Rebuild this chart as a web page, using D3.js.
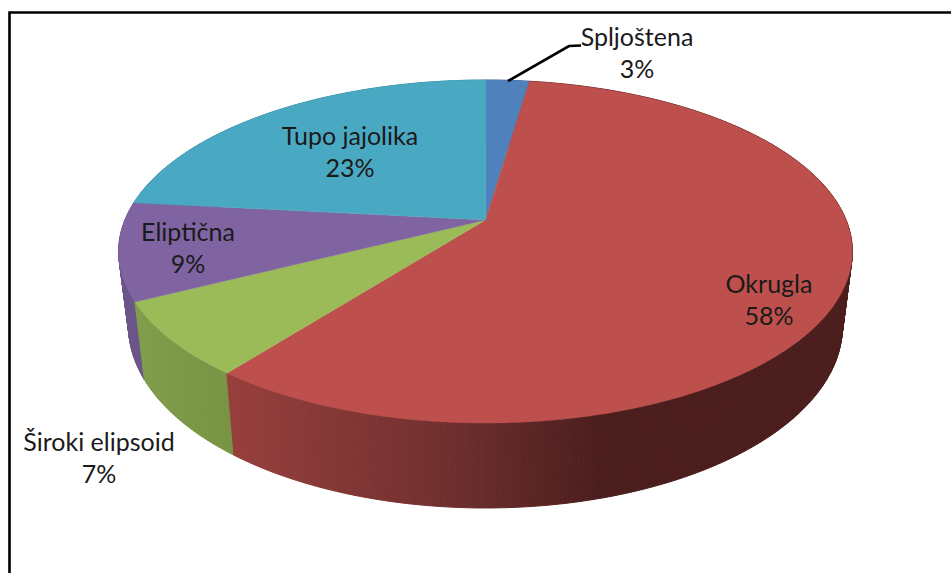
<!DOCTYPE html>
<html><head><meta charset="utf-8">
<script src="https://cdnjs.cloudflare.com/ajax/libs/d3/7.8.5/d3.min.js"></script>
<style>html,body{margin:0;padding:0;background:#fff;overflow:hidden}svg{display:block}</style>
</head><body><svg id="c" width="951" height="573"></svg>
<script>
const categories = ["Spljoštena","Okrugla","Široki elipsoid","Eliptična","Tupo jajolika"];
const values = [2.3,58.2,7.0,9.2,23.3];
const percentLabels = ["3%","58%","7%","9%","23%"];

const topColors = ["#4f81bd","#bd4f4c","#9bbb59","#8064a2","#4aa9c2"];
const labelPos = [[637,46],[769,293],[99,451],[188,241],[350,145]];
const LINE = 31.5;

const svg = d3.select("#c");
const cx = 485.5, apexY = 220, A = 360.6, a = 165.7, b = -0.1837;

// perspective projection of a point on the unit disc
function proj(ang, r=1){
  const x = r*Math.sin(ang), y = -r*Math.cos(ang), d = 1 + b*y;
  return [cx + A*x/d, apexY + a*y/d];
}
// same point on the lower rim of the disc
function lower(p){
  return [cx + 0.973*(p[0]-cx), p[1] + 85 - 0.06*(423-p[1])];
}
const arcs = d3.pie().sort(null).startAngle(0).endAngle(2*Math.PI)(values);
const line = d3.line();

const sideStops = [
  [[0,"#3e6795"],[951,"#3e6795"]],
  [[228,"#973f3d"],[330,"#853836"],[450,"#6f2f2f"],[600,"#4b1e1d"],[860,"#4b1e1d"]],
  [[140,"#7f9d4a"],[234,"#789343"]],
  [[118,"#6a5488"],[150,"#6a5488"]],
  [[0,"#3a8699"],[951,"#3a8699"]]
];
const defs = svg.append("defs");
sideStops.forEach((stops,i)=>{
  const x0 = stops[0][0], x1 = stops[stops.length-1][0];
  const g = defs.append("linearGradient").attr("id","side"+i).attr("gradientUnits","userSpaceOnUse")
    .attr("x1",x0).attr("x2",x1).attr("y1",0).attr("y2",0);
  stops.forEach(s=>g.append("stop").attr("offset",(s[0]-x0)/(x1-x0)).attr("stop-color",s[1]));
});
// side wall, drawn as thin strips sharing one gradient per slice, back to front
const strips = [];
arcs.forEach((s,i)=>{
  const n = Math.ceil((s.endAngle-s.startAngle)/0.012);
  d3.range(n).forEach(k=>{
    const t0 = s.startAngle+(s.endAngle-s.startAngle)*k/n;
    const t1 = s.startAngle+(s.endAngle-s.startAngle)*(k+1)/n;
    const p0 = proj(t0), p1 = proj(t1);
    strips.push({i, pts:[p0,p1,lower(p1),lower(p0)], my:(p0[1]+p1[1])/2});
  });
});
strips.sort((u,v)=>u.my-v.my);
svg.append("g").selectAll("path").data(strips).join("path")
  .attr("d",d=>line(d.pts)+"Z")
  .attr("fill",d=>`url(#side${d.i})`)
  .attr("stroke",d=>`url(#side${d.i})`)
  .attr("stroke-width",1);

// top face
svg.append("g").selectAll("path").data(arcs).join("path")
  .attr("d",s=>{
    const n = Math.ceil((s.endAngle-s.startAngle)/0.01);
    const rim = d3.range(n+1).map(k=>proj(s.startAngle+(s.endAngle-s.startAngle)*k/n));
    return line([[cx,apexY],...rim])+"Z";
  })
  .attr("fill",(s,i)=>topColors[i])
  .attr("stroke",(s,i)=>topColors[i])
  .attr("stroke-width",0.4);

// frame
svg.append("path").attr("d","M9.5,573V12.5H951").attr("fill","none").attr("stroke","#000").attr("stroke-width",2.6);

// leader
svg.append("path").attr("d",line([[508,81],[569,46],[581,45.5]])).attr("fill","none").attr("stroke","#000").attr("stroke-width",2.6);

// labels
const g = svg.append("g").attr("font-family","Lato, Carlito, sans-serif").attr("font-size",25).attr("fill","#1a1a1a").attr("text-anchor","middle");
categories.forEach((c,i)=>{
  const [x,y] = labelPos[i];
  const t = g.append("text");
  t.append("tspan").attr("x",x).attr("y",y).text(c);
  t.append("tspan").attr("x",x).attr("y",y+LINE).text(percentLabels[i]);
});
</script></body></html>
